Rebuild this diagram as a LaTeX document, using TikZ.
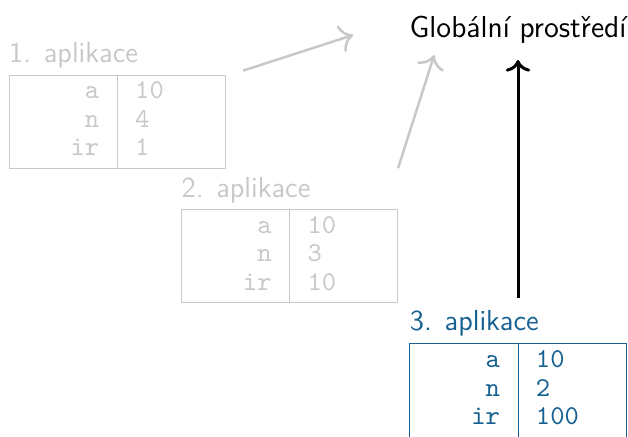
\documentclass[tikz,border=0pt]{standalone}
\usepackage{fontspec}
\usepackage{array}
\usepackage{tikz}
\usetikzlibrary{arrows.meta,calc,positioning}

\definecolor{fadegray}{RGB}{200,200,200}
\definecolor{appblue}{RGB}{22,97,145}

\newcommand{\apptab}[3]{%
  \renewcommand{\arraystretch}{0.89}%
  \begin{tabular}{@{}>{\raggedleft\arraybackslash}p{36pt}@{\hspace{14.4pt}}>{\raggedright\arraybackslash}p{36pt}@{}}
    a & #1\\
    n & #2\\
    ir & #3
  \end{tabular}}

\tikzset{
  tbl/.style={draw, inner xsep=0pt, inner ysep=1.5pt,
    minimum width=86.4pt, minimum height=37.2pt,
    font=\ttfamily\fontsize{10.9}{12.8}\selectfont},
  lbl/.style={anchor=base west, inner sep=0pt,
    font=\sffamily\fontsize{11.6}{13.9}\selectfont},
  arrgray/.style={-{To[scale=1.4]}, fadegray, line width=1pt},
  arrblack/.style={-{To[scale=1.1]}, black, line width=1.2pt},
}

\begin{document}
\begin{tikzpicture}[x=0.4pt, y=-0.4pt]

  \clip (0,0) rectangle (628,436);

  %-------------------------
  % Global environment
  %-------------------------
  \node[anchor=base, inner sep=0pt, font=\sffamily\fontsize{12.1}{14.5}\selectfont]
    (title) at (518,37.5) {Globální prostředí};

  %-------------------------
  % Applications
  %-------------------------
  \node[tbl, fadegray] (t1) at (117.2,121.6) {\apptab{10}{4}{1}};
  \draw[fadegray] (t1.north) -- (t1.south);
  \node[lbl, fadegray] (l1) at ([yshift=4.8pt]t1.north west) {1. aplikace};

  \node[tbl, fadegray] (t2) at (289.6,256.2) {\apptab{10}{3}{10}};
  \draw[fadegray] (t2.north) -- (t2.south);
  \node[lbl, fadegray] (l2) at ([yshift=4.8pt]t2.north west) {2. aplikace};

  \node[tbl, appblue, minimum height=38pt] (t3) at (518,390.5) {\apptab{10}{2}{100}};
  \draw[appblue] (t3.north) -- (t3.south);
  \node[lbl, appblue] (l3) at ([yshift=4.8pt]t3.north west) {3. aplikace};

  %-------------------------
  % Arrows to the global environment
  %-------------------------
  \draw[arrgray] ([shift={(7pt,1.6pt)}]t1.north east) -- ([shift={(-22.4pt,1pt)}]title.base west);
  \draw[arrgray] ([yshift=16.4pt]t2.north east) -- ([shift={(10pt,-7pt)}]title.base west);
  \draw[arrblack] ([yshift=18pt]t3.north) -- ([yshift=-9pt]title.base);

\end{tikzpicture}
\end{document}
